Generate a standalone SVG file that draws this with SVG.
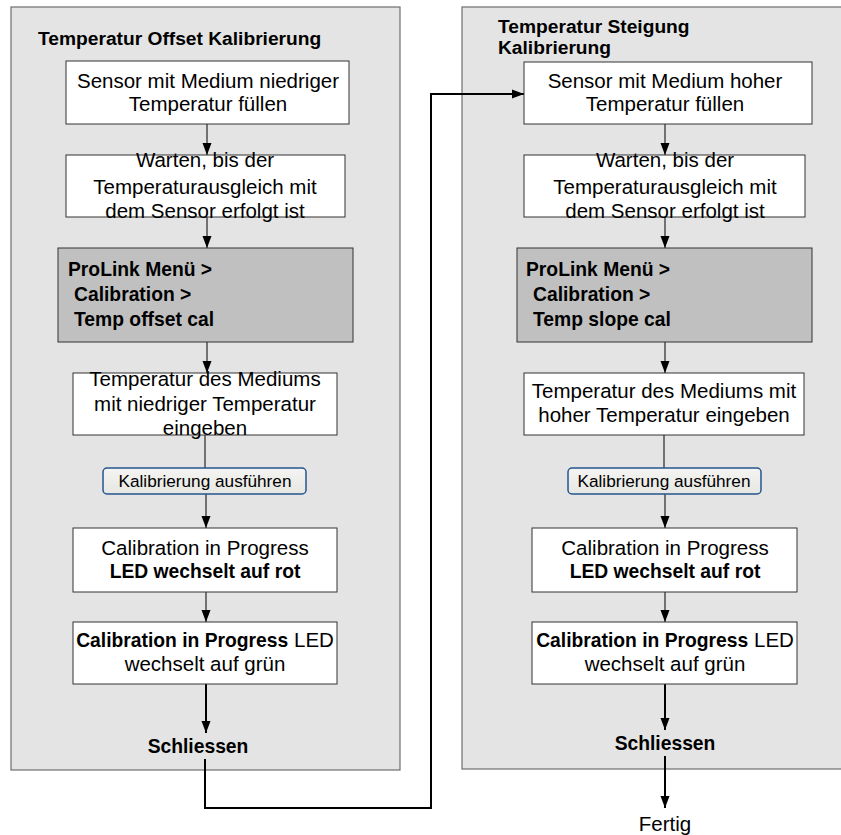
<svg xmlns="http://www.w3.org/2000/svg" width="841" height="835" viewBox="0 0 841 835">
<defs>
<marker id="ah" markerUnits="userSpaceOnUse" markerWidth="12" markerHeight="12" viewBox="0 0 12 12" refX="12" refY="6" orient="auto">
<path d="M0,1.5 L12,6 L0,10.5 Z" fill="#000"/>
</marker>
<linearGradient id="btn" x1="0" y1="0" x2="0" y2="1">
<stop offset="0" stop-color="#f4f4f2"/>
<stop offset="1" stop-color="#e6e6e2"/>
</linearGradient>
</defs>
<style>
text{font-family:"Liberation Sans",Arial,sans-serif;fill:#000}
.panel{fill:#e4e4e4;stroke:#6e6e6e;stroke-width:1.2}
.box{fill:#fff;stroke:#333;stroke-width:1}
.gray{fill:#c0c0c0;stroke:#333;stroke-width:1}
.btn{fill:url(#btn);stroke:#23558f;stroke-width:1.5}
.t{font-size:20.5px;text-anchor:middle}
.b{font-weight:bold;font-size:19.3px}
.title{font-size:19.2px;font-weight:bold}
.menu{font-size:19.3px;font-weight:bold}
.bt{font-size:17.2px;text-anchor:middle}
.ln{stroke:#000;stroke-width:1;fill:none}
.lnt{stroke:#000;stroke-width:2;fill:none}
</style>

<g id="panel-left">
<rect class="panel" x="11" y="7" width="389" height="763"/>
<text class="title" x="38" y="45">Temperatur Offset Kalibrierung</text>
</g>
<g id="panel-right">
<rect class="panel" x="462" y="7" width="390" height="762"/>
<text class="title" x="498" y="33">Temperatur Steigung</text>
<text class="title" x="498" y="54">Kalibrierung</text>
</g>

<g id="connectors">
<line class="ln" x1="207" y1="124" x2="207" y2="155" marker-end="url(#ah)"/>
<line class="ln" x1="207" y1="217" x2="207" y2="248" marker-end="url(#ah)"/>
<line class="ln" x1="207" y1="342" x2="207" y2="373" marker-end="url(#ah)"/>
<line class="ln" x1="205" y1="435" x2="205" y2="468"/>
<line class="ln" x1="206" y1="494" x2="206" y2="528" marker-end="url(#ah)"/>
<line class="ln" x1="206" y1="592" x2="206" y2="622" marker-end="url(#ah)"/>
<line class="lnt" x1="206" y1="684" x2="206" y2="733" marker-end="url(#ah)"/>
<polyline class="lnt" points="205,759 205,808 431,808 431,94 524,94" marker-end="url(#ah)"/>
<line class="ln" x1="665" y1="124" x2="665" y2="155" marker-end="url(#ah)"/>
<line class="ln" x1="665" y1="217" x2="665" y2="248" marker-end="url(#ah)"/>
<line class="ln" x1="665" y1="342" x2="665" y2="373" marker-end="url(#ah)"/>
<line class="ln" x1="664" y1="435" x2="664" y2="468"/>
<line class="ln" x1="665" y1="494" x2="665" y2="528" marker-end="url(#ah)"/>
<line class="ln" x1="665" y1="592" x2="665" y2="622" marker-end="url(#ah)"/>
<line class="lnt" x1="665" y1="684" x2="665" y2="730" marker-end="url(#ah)"/>
<line class="lnt" x1="665" y1="756" x2="665" y2="808" marker-end="url(#ah)"/>
</g>

<g id="l1">
<rect class="box" x="66" y="61" width="283" height="63"/>
<text class="t" x="208" y="88">Sensor mit Medium niedriger</text>
<text class="t" x="208" y="111">Temperatur füllen</text>
</g>
<g id="l2">
<rect class="box" x="66" y="155" width="279" height="62"/>
<text class="t" x="205" y="167">Warten, bis der</text>
<text class="t" x="205" y="194">Temperaturausgleich mit</text>
<text class="t" x="205" y="218">dem Sensor erfolgt ist</text>
</g>
<g id="l3">
<rect class="gray" x="58" y="248" width="295" height="94"/>
<text class="menu" x="68" y="276">ProLink Menü &gt;</text>
<text class="menu" x="74" y="301">Calibration &gt;</text>
<text class="menu" x="74" y="326">Temp offset cal</text>
</g>
<g id="l4">
<rect class="box" x="73" y="373" width="264" height="62"/>
<text class="t" x="205" y="386">Temperatur des Mediums</text>
<text class="t" x="205" y="411">mit niedriger Temperatur</text>
<text class="t" x="205" y="435">eingeben</text>
</g>
<g id="l5">
<rect class="btn" x="103" y="468" width="203" height="26" rx="4"/>
<text class="bt" x="205" y="487">Kalibrierung ausführen</text>
</g>
<g id="l6">
<rect class="box" x="73" y="528" width="264" height="64"/>
<text class="t" x="205" y="555">Calibration in Progress</text>
<text class="t b" x="205" y="578">LED wechselt auf rot</text>
</g>
<g id="l7">
<rect class="box" x="73" y="622" width="264" height="62"/>
<text class="t" x="205" y="647"><tspan class="b">Calibration in Progress</tspan> LED</text>
<text class="t" x="205" y="671">wechselt auf grün</text>
</g>
<g id="l8">
<text class="t b" x="198" y="753">Schliessen</text>
</g>

<g id="r1">
<rect class="box" x="524" y="62" width="288" height="62"/>
<text class="t" x="665" y="88">Sensor mit Medium hoher</text>
<text class="t" x="665" y="111">Temperatur füllen</text>
</g>
<g id="r2">
<rect class="box" x="524" y="155" width="281" height="62"/>
<text class="t" x="665" y="167">Warten, bis der</text>
<text class="t" x="665" y="194">Temperaturausgleich mit</text>
<text class="t" x="665" y="218">dem Sensor erfolgt ist</text>
</g>
<g id="r3">
<rect class="gray" x="517" y="248" width="295" height="94"/>
<text class="menu" x="526" y="276">ProLink Menü &gt;</text>
<text class="menu" x="533" y="301">Calibration &gt;</text>
<text class="menu" x="533" y="326">Temp slope cal</text>
</g>
<g id="r4">
<rect class="box" x="524" y="373" width="280" height="62"/>
<text class="t" x="664" y="398">Temperatur des Mediums mit</text>
<text class="t" x="664" y="422">hoher Temperatur eingeben</text>
</g>
<g id="r5">
<rect class="btn" x="568" y="468" width="193" height="26" rx="4"/>
<text class="bt" x="664" y="487">Kalibrierung ausführen</text>
</g>
<g id="r6">
<rect class="box" x="532" y="528" width="265" height="64"/>
<text class="t" x="665" y="555">Calibration in Progress</text>
<text class="t b" x="665" y="578">LED wechselt auf rot</text>
</g>
<g id="r7">
<rect class="box" x="532" y="622" width="265" height="62"/>
<text class="t" x="665" y="647"><tspan class="b">Calibration in Progress</tspan> LED</text>
<text class="t" x="665" y="671">wechselt auf grün</text>
</g>
<g id="r8">
<text class="t b" x="665" y="750">Schliessen</text>
</g>
<g id="fertig">
<text class="t" x="665" y="831">Fertig</text>
</g>
</svg>
